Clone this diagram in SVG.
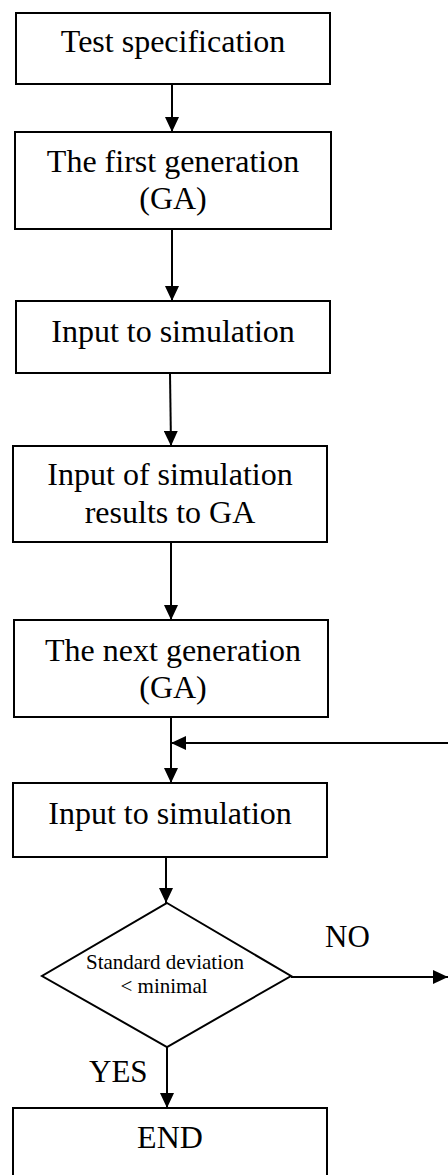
<svg xmlns="http://www.w3.org/2000/svg" width="448" height="1175" viewBox="0 0 448 1175">
<style>
.box{fill:#fff;stroke:#000;stroke-width:2}
.t{font-family:'Liberation Serif',serif;font-size:32px;fill:#000;text-anchor:middle}
.s{font-family:'Liberation Serif',serif;font-size:21px;fill:#000;text-anchor:middle}
.lbl{font-family:'Liberation Serif',serif;font-size:31px;fill:#000}
.c{fill:none;stroke:#000;stroke-width:2;marker-end:url(#ah)}
</style>
<defs>
<marker id="ah" markerUnits="userSpaceOnUse" markerWidth="16" markerHeight="14" refX="15" refY="7" orient="auto">
<path d="M0,0 L15,7 L0,14 z" fill="#000"/>
</marker>
</defs>
<rect width="448" height="1175" fill="#fff"/>
<g id="connectors">
<line class="c" x1="172" y1="84" x2="172" y2="132"/>
<line class="c" x1="172" y1="229" x2="172" y2="301"/>
<line class="c" x1="170" y1="373" x2="171" y2="446"/>
<line class="c" x1="171" y1="542" x2="171" y2="620"/>
<line class="c" x1="171" y1="717" x2="171" y2="783"/>
<line class="c" x1="448" y1="743" x2="171" y2="743"/>
<line class="c" x1="166" y1="857" x2="166" y2="903"/>
<line class="c" x1="291" y1="977" x2="448" y2="977"/>
<line class="c" x1="167" y1="1047" x2="167" y2="1108"/>
</g>
<g id="n1">
<rect class="box" x="16" y="13" width="314" height="71"/>
<text class="t" x="173" y="52" font-family="Liberation Serif">Test specification</text>
</g>
<g id="n2">
<rect class="box" x="15" y="132" width="316" height="97"/>
<text class="t" x="173" y="172" font-family="Liberation Serif">The first generation</text>
<text class="t" x="173" y="209" font-family="Liberation Serif">(GA)</text>
</g>
<g id="n3">
<rect class="box" x="16" y="301" width="314" height="72"/>
<text class="t" x="173" y="342" font-family="Liberation Serif">Input to simulation</text>
</g>
<g id="n4">
<rect class="box" x="13" y="446" width="314" height="96"/>
<text class="t" x="170" y="485" font-family="Liberation Serif">Input of simulation</text>
<text class="t" x="170" y="523" font-family="Liberation Serif">results to GA</text>
</g>
<g id="n5">
<rect class="box" x="14" y="620" width="314" height="97"/>
<text class="t" x="173" y="661" font-family="Liberation Serif">The next generation</text>
<text class="t" x="173" y="698" font-family="Liberation Serif">(GA)</text>
</g>
<g id="n6">
<rect class="box" x="13" y="783" width="314" height="74"/>
<text class="t" x="170" y="824" font-family="Liberation Serif">Input to simulation</text>
</g>
<g id="n7">
<polygon class="box" points="167,903 291,976 167,1047 42,976"/>
<text class="s" x="165" y="969" font-family="Liberation Serif">Standard deviation</text>
<text class="s" x="164" y="993" font-family="Liberation Serif">&lt; minimal</text>
</g>
<g id="n8">
<rect class="box" x="13" y="1108" width="314" height="80"/>
<text class="t" x="170" y="1148" font-family="Liberation Serif">END</text>
</g>
<g id="labels">
<text class="lbl" x="325" y="947" font-family="Liberation Serif">NO</text>
<text class="lbl" x="89" y="1082" font-family="Liberation Serif">YES</text>
</g>
</svg>
